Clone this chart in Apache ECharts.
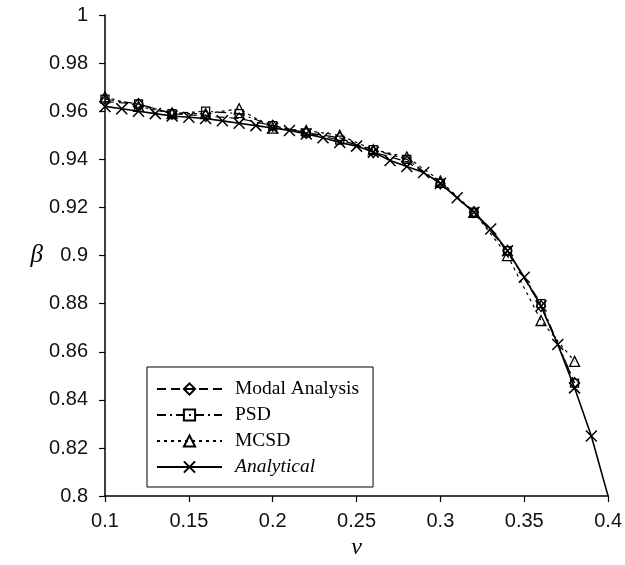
<!DOCTYPE html>
<html>
<head>
<meta charset="utf-8">
<script src="https://cdn.jsdelivr.net/npm/echarts@6/dist/echarts.min.js"></script>
<style>html,body{margin:0;padding:0;background:#fff;}#c{width:625px;height:565px;}</style>
</head>
<body>
<div id="c"></div>
<script>
var nuNum = [0.10, 0.12, 0.14, 0.16, 0.18, 0.20, 0.22, 0.24, 0.26, 0.28, 0.30, 0.32, 0.34, 0.36, 0.38];
var modal = [0.964, 0.963, 0.959, 0.958, 0.957, 0.954, 0.951, 0.949, 0.943, 0.939, 0.930, 0.918, 0.902, 0.879, 0.847];
var psd   = [0.965, 0.963, 0.959, 0.960, 0.959, 0.954, 0.951, 0.948, 0.944, 0.940, 0.930, 0.918, 0.902, 0.880, 0.847];
var mcsd  = [0.966, 0.962, 0.959, 0.959, 0.961, 0.953, 0.952, 0.950, 0.944, 0.941, 0.931, 0.918, 0.900, 0.873, 0.856];
var nuAn  = [0.10, 0.11, 0.12, 0.13, 0.14, 0.15, 0.16, 0.17, 0.18, 0.19, 0.20, 0.21, 0.22, 0.23, 0.24, 0.25, 0.26, 0.27, 0.28, 0.29, 0.30, 0.31, 0.32, 0.33, 0.34, 0.35, 0.36, 0.37, 0.38, 0.39, 0.40];
var analytical = [0.962, 0.961, 0.960, 0.959, 0.958, 0.9575, 0.957, 0.956, 0.955, 0.954, 0.953, 0.952, 0.9505, 0.949, 0.947, 0.9455, 0.943, 0.9395, 0.937, 0.9345, 0.930, 0.924, 0.918, 0.911, 0.902, 0.891, 0.879, 0.863, 0.845, 0.825, 0.800];
var seriesNames = ['Modal Analysis', 'PSD', 'MCSD', 'Analytical'];

function pairs(xs, ys) { return xs.map(function (x, i) { return [x, ys[i]]; }); }
var anData = pairs(nuAn, analytical).map(function (p, i) {
  return i === nuAn.length - 1 ? { value: p, symbol: 'none' } : p;
});
var XSYM = 'path://M0,0L10,10M10,0L0,10';
var hollow = { color: 'none', borderColor: '#000', borderWidth: 1.3 };

var chart = echarts.init(document.getElementById('c'), null, { renderer: 'canvas' });
chart.setOption({
  backgroundColor: '#fff',
  animation: false,
  grid: { left: 105, right: 15, top: 15, bottom: 67 },
  xAxis: {
    type: 'value', min: 0.1, max: 0.4, interval: 0.05,
    name: 'ν', nameLocation: 'middle', nameGap: 38,
    nameTextStyle: { fontFamily: 'Liberation Serif', fontStyle: 'italic', fontSize: 24, color: '#000' },
    axisLine: { lineStyle: { color: '#000', width: 1.5 } },
    axisTick: { show: true, inside: false, length: 6, lineStyle: { color: '#000', width: 1.2 } },
    axisLabel: { color: '#111', fontFamily: 'Liberation Sans', fontSize: 20, margin: 15 },
    splitLine: { show: false }
  },
  yAxis: {
    type: 'value', min: 0.8, max: 1, interval: 0.02,
    name: 'β', nameLocation: 'middle', nameGap: 62, nameRotate: 0,
    nameTextStyle: { fontFamily: 'Liberation Serif', fontStyle: 'italic', fontSize: 25, color: '#000' },
    axisLine: { show: true, lineStyle: { color: '#000', width: 1.5 } },
    axisTick: { show: true, inside: false, length: 6, lineStyle: { color: '#000', width: 1.2 } },
    axisLabel: { color: '#111', fontFamily: 'Liberation Sans', fontSize: 20, margin: 17 },
    splitLine: { show: false }
  },
  legend: {
    orient: 'vertical', left: 147, top: 367,
    padding: [12, 14, 10, 9], itemGap: 6, itemWidth: 65, itemHeight: 14,
    borderColor: '#000', borderWidth: 1, backgroundColor: '#fff',
    textStyle: { fontFamily: 'Liberation Serif', fontSize: 19.5, color: '#000', padding: [0, 0, 0, 8] },
    data: [
      { name: seriesNames[0] }, { name: seriesNames[1] }, { name: seriesNames[2] },
      { name: seriesNames[3], textStyle: { fontStyle: 'italic' } }
    ]
  },
  series: [
    { name: seriesNames[0], type: 'line', data: pairs(nuNum, modal), symbol: 'diamond', symbolSize: [9, 11],
      lineStyle: { color: '#000', width: 1.2, type: [9, 5] }, itemStyle: hollow },
    { name: seriesNames[1], type: 'line', data: pairs(nuNum, psd), symbol: 'rect', symbolSize: 8,
      lineStyle: { color: '#000', width: 1.2, type: [9, 4, 2, 4] }, itemStyle: hollow },
    { name: seriesNames[2], type: 'line', data: pairs(nuNum, mcsd), symbol: 'triangle', symbolSize: 10,
      lineStyle: { color: '#000', width: 1.2, type: [3, 4] }, itemStyle: hollow },
    { name: seriesNames[3], type: 'line', data: anData, symbol: XSYM, symbolSize: 11,
      lineStyle: { color: '#000', width: 1.6, type: 'solid' },
      itemStyle: { color: 'none', borderColor: '#000', borderWidth: 1.5 } }
  ]
});
</script>
</body>
</html>
